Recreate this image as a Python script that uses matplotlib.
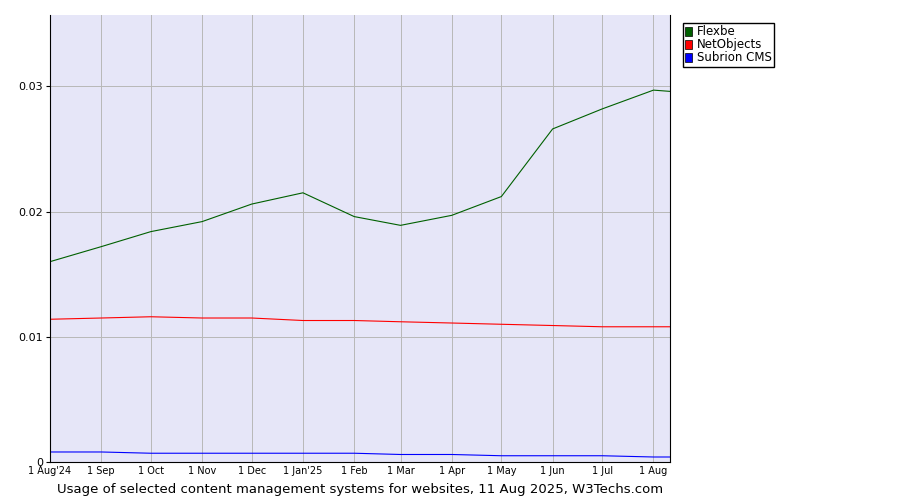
import matplotlib
matplotlib.use("Agg")
import matplotlib.pyplot as plt
import matplotlib.patches as mpatches
import numpy as np
from datetime import date

# monthly sample dates plus the last data point
dates = [date(2024, 8, 1), date(2024, 9, 1), date(2024, 10, 1), date(2024, 11, 1),
         date(2024, 12, 1), date(2025, 1, 1), date(2025, 2, 1), date(2025, 3, 1),
         date(2025, 4, 1), date(2025, 5, 1), date(2025, 6, 1), date(2025, 7, 1),
         date(2025, 8, 1), date(2025, 8, 11)]
tick_labels = ["1 Aug'24", "1 Sep", "1 Oct", "1 Nov", "1 Dec", "1 Jan'25", "1 Feb",
               "1 Mar", "1 Apr", "1 May", "1 Jun", "1 Jul", "1 Aug"]

flexbe = [0.0160, 0.0172, 0.0184, 0.0192, 0.0206, 0.0215, 0.0196, 0.0189,
          0.0197, 0.0212, 0.0266, 0.0282, 0.0297, 0.0296]
netobjects = [0.0114, 0.0115, 0.0116, 0.0115, 0.0115, 0.0113, 0.0113, 0.0112,
              0.0111, 0.0110, 0.0109, 0.0108, 0.0108, 0.0108]
subrion = [0.0008, 0.0008, 0.0007, 0.0007, 0.0007, 0.0007, 0.0007, 0.0006,
           0.0006, 0.0005, 0.0005, 0.0005, 0.0004, 0.0004]

names = ["Flexbe", "NetObjects", "Subrion CMS"]
colors = ["#006000", "#ff0000", "#0000ff"]

x = np.array([(d - dates[0]).days for d in dates])

fig = plt.figure(figsize=(9, 5), dpi=100)
ax = fig.add_axes([50 / 900, 38 / 500, 620 / 900, 447 / 500])
ax.set_facecolor("#e6e6f8")

for series, c in zip([flexbe, netobjects, subrion], colors):
    ax.plot(x, series, color=c, lw=0.8)

ax.set_xlim(x[0], x[-1])
ax.set_ylim(0, 0.0357)
ax.set_xticks(x[:-1])
ax.set_xticklabels(tick_labels, fontsize=7)
ax.set_yticks([0, 0.01, 0.02, 0.03])
ax.set_yticklabels(["0", "0.01", "0.02", "0.03"], fontsize=8)
ax.grid(True, color="#b8b8b8", lw=0.7)
ax.tick_params(axis="x", length=0, pad=3)
ax.tick_params(axis="y", length=3, pad=2)
ax.spines["top"].set_visible(False)

handles = [mpatches.Patch(facecolor=c, edgecolor="black", lw=0.5, label=n)
           for n, c in zip(names, colors)]
ax.legend(handles=handles, loc="upper left", bbox_to_anchor=(1.015, 0.99), fontsize=8.5,
          handlelength=0.6, handleheight=0.8, borderpad=0.2, labelspacing=0.0,
          handletextpad=0.4, borderaxespad=0.3, frameon=True, fancybox=False,
          edgecolor="black", framealpha=1)

fig.text(360 / 900, 7 / 500,
         "Usage of selected content management systems for websites, 11 Aug 2025, W3Techs.com",
         ha="center", fontsize=9.5)

fig.savefig("out.png", dpi=100)
